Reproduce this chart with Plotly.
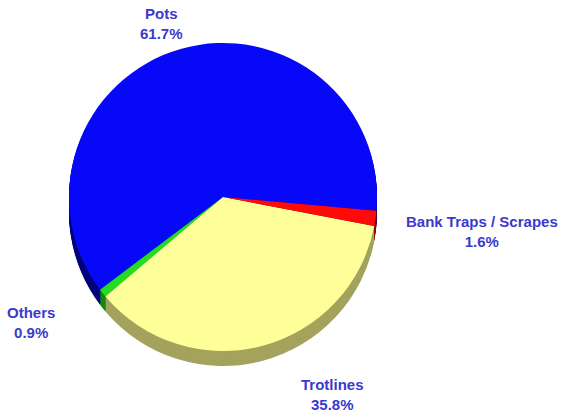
import plotly.graph_objects as go

labels = ["Pots", "Others", "Trotlines", "Bank Traps / Scrapes"]
values = [61.7, 0.9, 35.8, 1.6]
top_colors = ["#0808f8", "#22dd22", "#ffff99", "#ff0a0a"]
side_colors = ["#00007a", "#118811", "#a4a35e", "#8c0000"]

W, H = 565, 412
cx, cy, R = 223, 197, 154   # pixel center (from top) and radius
depth = 15

fig = go.Figure()

def dom(offset):
    c_from_bottom = H - (cy + offset)
    return dict(x=[(cx - R) / W, (cx + R) / W],
                y=[(c_from_bottom - R) / H, (c_from_bottom + R) / H])

for d in range(depth, 0, -1):
    fig.add_trace(go.Pie(
        labels=labels, values=values, sort=False, direction="counterclockwise",
        rotation=-127, textinfo="none", hoverinfo="skip", showlegend=False,
        marker=dict(colors=side_colors, line=dict(width=0)), domain=dom(d)))

fig.add_trace(go.Pie(
    labels=labels, values=values, sort=False, direction="counterclockwise",
    rotation=-127, textinfo="none", showlegend=False,
    marker=dict(colors=top_colors, line=dict(width=0)), domain=dom(0)))

label_pos = [(161, 24), (31, 322), (332, 394), (482, 231)]
for lab, v, (px, py) in zip(labels, values, label_pos):
    fig.add_annotation(
        x=px / W, y=1 - py / H, xref="paper", yref="paper",
        xanchor="center", yanchor="middle",
        text=f"<b>{lab}<br>{v:.1f}%</b>", showarrow=False,
        font=dict(family="Liberation Sans, Arial", size=15, color="#3a3acc"),
        align="center")

fig.update_layout(width=W, height=H, margin=dict(l=0, r=0, t=0, b=0),
                  paper_bgcolor="white", plot_bgcolor="white")
fig.write_html("out.html")
